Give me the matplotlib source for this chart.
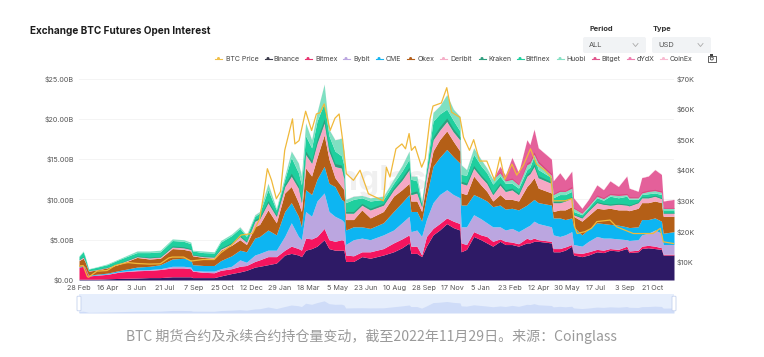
import matplotlib
matplotlib.use('Agg')
import matplotlib.pyplot as plt
from matplotlib.patches import FancyBboxPatch, Circle, Rectangle
from matplotlib.lines import Line2D

W, H = 764, 357

# day index of each reading, counted from 28 Feb 2020
days = [0, 7, 10, 16, 30, 47, 69, 97, 118, 136,
        156, 175, 187, 190, 208, 226, 237, 255,
        269, 280, 294, 302, 316, 330, 344, 355, 367, 372,
        379, 389, 398, 410, 418, 428, 439, 443, 446, 459,
        473, 487, 509, 526, 540, 552, 555, 565, 573, 581,
        592, 603, 615, 626, 637, 639, 648, 660, 672, 682,
        692, 704, 713, 724, 735, 749, 754, 761, 768, 790,
        793, 804, 813, 824, 827, 841, 852, 866, 877, 888,
        902, 916, 920, 935, 941, 952, 963, 974, 977, 995]

# upper edge of every stacked band, $B
binance_top = [.1, .1, .1, .1, .1, .15, .2, .25, .3, .3,
               .4, .4, .4, .3, .3, .3, .5, .8,
               1.0, 1.2, 1.6, 1.7, 1.9, 2.1, 3.1, 3.3, 3.1, 2.9,
               3.7, 3.9, 4.2, 5.0, 3.9, 3.7, 3.7, 3.7, 2.3, 2.3,
               2.9, 2.7, 3.1, 3.5, 4.0, 4.6, 3.3, 3.3, 2.9, 4.2,
               5.6, 6.2, 7.0, 6.5, 6.2, 3.5, 3.8, 5.4, 5.0, 4.6,
               4.2, 4.8, 4.4, 4.4, 4.2, 4.6, 4.6, 4.8, 4.8, 4.6,
               3.5, 3.5, 3.7, 4.2, 3.1, 2.9, 3.1, 3.5, 3.4, 3.7,
               3.6, 3.9, 3.4, 3.5, 3.9, 4.0, 3.9, 3.8, 3.1, 3.1]
bitmex_top = [1.6, 1.7, 1.5, .5, .6, .7, 1.0, 1.15, 1.2, 1.3,
              1.5, 1.5, 1.4, 1.1, .95, .9, 1.2, 1.4,
              1.7, 1.8, 2.3, 2.5, 2.9, 2.9, 3.7, 4.2, 3.9, 3.7,
              5.2, 5.1, 5.4, 6.4, 5.0, 4.8, 5.0, 4.9, 3.1, 3.0,
              3.5, 3.5, 3.9, 4.6, 5.1, 5.6, 4.2, 4.2, 3.1, 5.4,
              6.4, 7.0, 7.7, 7.3, 7.0, 4.6, 4.4, 6.0, 5.6, 5.4,
              4.8, 5.1, 4.8, 4.7, 4.5, 5.2, 5.0, 5.2, 5.0, 4.8,
              3.9, 3.9, 4.1, 4.4, 3.4, 3.3, 3.5, 3.8, 3.7, 3.9,
              3.8, 4.2, 3.6, 3.7, 4.2, 4.3, 4.2, 4.0, 3.2, 3.2]
bybit_top = [1.6, 1.7, 1.5, .52, .63, .75, 1.05, 1.25, 1.3, 1.4,
             1.7, 1.7, 1.6, 1.2, 1.1, 1.1, 1.4, 1.7,
             2.5, 2.2, 3.1, 3.3, 3.7, 3.7, 5.4, 7.1, 5.4, 5.0,
             8.5, 7.9, 9.8, 10.8, 8.5, 7.9, 7.5, 7.2, 4.4, 5.0,
             5.2, 5.0, 5.6, 6.2, 7.1, 7.9, 6.0, 6.2, 5.4, 7.5,
             9.6, 10.6, 11.2, 10.6, 10.2, 6.6, 6.6, 8.1, 7.6, 7.1,
             6.6, 6.6, 6.2, 6.4, 6.0, 6.6, 6.8, 7.3, 7.0, 6.6,
             5.6, 5.4, 5.6, 6.0, 4.4, 4.2, 4.8, 5.4, 5.2, 5.2,
             5.1, 5.0, 4.9, 5.0, 5.6, 5.8, 6.2, 5.8, 4.4, 4.4]
cme_top = [1.7, 1.8, 1.6, .6, .72, .85, 1.2, 1.6, 1.7, 1.9,
           2.6, 2.7, 2.5, 1.9, 1.8, 1.8, 2.4, 3.0,
           3.7, 3.5, 5.2, 5.4, 6.2, 5.6, 8.5, 9.6, 7.9, 6.6,
           11.2, 10.6, 12.5, 14.1, 12.0, 11.6, 10.0, 9.8, 6.2, 6.6,
           6.6, 6.4, 7.1, 8.5, 9.6, 10.6, 8.5, 8.5, 7.3, 10.4,
           14.1, 15.2, 16.2, 15.3, 14.5, 9.3, 9.3, 10.6, 10.2, 9.8,
           9.1, 9.3, 8.8, 8.9, 8.7, 9.3, 9.6, 10.0, 9.6, 9.3,
           7.7, 7.7, 7.5, 7.7, 6.6, 5.6, 6.3, 7.1, 7.0, 6.9,
           6.8, 6.6, 6.5, 6.6, 7.5, 7.5, 7.7, 7.3, 5.8, 6.0]
okex_top = [2.4, 2.7, 2.3, 1.1, 1.25, 1.5, 2.0, 2.8, 2.6, 2.7,
            3.9, 3.8, 3.6, 3.0, 2.8, 2.7, 3.7, 4.3,
            5.0, 4.4, 6.6, 6.9, 8.7, 7.1, 10.8, 11.6, 9.6, 8.5,
            13.9, 12.9, 15.2, 18.0, 15.0, 12.7, 11.6, 11.2, 7.5, 7.5,
            8.7, 7.7, 8.5, 10.4, 11.2, 12.0, 9.8, 9.8, 8.5, 12.0,
            16.0, 17.4, 18.5, 17.2, 16.0, 10.8, 10.6, 12.9, 11.8, 11.0,
            9.8, 10.6, 10.0, 10.0, 9.8, 11.6, 12.0, 12.7, 11.4, 10.8,
            8.5, 8.7, 8.7, 9.1, 7.9, 7.3, 8.0, 8.9, 8.8, 8.9,
            8.7, 8.7, 8.6, 8.9, 9.6, 9.6, 9.8, 9.6, 7.9, 7.9]
deribit_top = [2.5, 2.85, 2.4, 1.15, 1.3, 1.55, 2.1, 2.9, 2.75, 2.85,
               4.1, 4.0, 3.8, 3.1, 2.9, 2.85, 3.85, 4.5,
               5.4, 4.7, 7.3, 7.6, 9.6, 7.9, 11.6, 12.9, 11.4, 9.6,
               15.6, 14.5, 17.0, 19.5, 16.0, 14.1, 13.9, 12.6, 8.3, 8.3,
               9.3, 8.7, 9.3, 11.2, 12.4, 13.7, 10.6, 10.8, 9.1, 13.0,
               17.4, 18.6, 19.7, 18.4, 17.4, 12.0, 11.8, 13.9, 12.8, 12.0,
               10.6, 11.8, 11.0, 11.2, 10.6, 12.9, 13.2, 14.1, 12.7, 12.0,
               9.6, 9.6, 9.8, 10.2, 8.1, 7.7, 8.6, 9.6, 9.4, 9.3,
               9.4, 9.3, 9.2, 9.6, 10.2, 10.2, 10.4, 10.1, 8.3, 8.3]
bitfinex_top = [2.9, 3.5, 2.9, 1.35, 1.6, 1.9, 2.6, 3.4, 3.4, 3.5,
                4.9, 4.8, 4.5, 3.6, 3.4, 3.35, 4.7, 5.5,
                6.4, 5.4, 7.9, 8.3, 11.2, 8.7, 12.5, 15.2, 13.3, 11.8,
                17.9, 16.4, 19.7, 22.0, 17.9, 16.0, 15.4, 14.2, 9.6, 10.0,
                10.2, 9.8, 10.0, 12.0, 13.5, 15.0, 12.5, 12.3, 9.5, 13.7,
                19.7, 20.6, 21.2, 19.8, 18.5, 13.1, 13.0, 15.6, 14.2, 13.3,
                11.9, 12.9, 12.0, 12.0, 11.4, 13.7, 14.0, 15.4, 13.7, 12.7,
                10.2, 10.6, 10.6, 11.0, 8.5, 8.1, 9.0, 10.2, 9.9, 10.4,
                10.2, 10.4, 10.0, 10.0, 10.6, 10.7, 10.8, 10.6, 8.7, 8.7]
huobi_top = [3.0, 3.6, 3.0, 1.4, 1.65, 2.0, 2.7, 3.6, 3.6, 3.7,
             5.1, 5.0, 4.7, 3.7, 3.6, 3.5, 4.9, 5.7,
             6.6, 5.6, 8.1, 8.5, 12.0, 8.9, 12.9, 16.0, 14.5, 12.9,
             19.5, 17.4, 20.8, 24.3, 18.7, 17.4, 17.6, 16.0, 10.0, 10.4,
             10.5, 10.2, 10.4, 12.5, 14.2, 16.0, 12.9, 12.9, 9.8, 14.1,
             20.8, 21.6, 23.0, 21.2, 20.3, 14.3, 13.7, 16.4, 15.0, 13.9,
             12.5, 13.3, 12.3, 12.5, 11.8, 14.3, 14.5, 15.6, 14.5, 13.0,
             10.6, 11.0, 11.0, 11.4, 8.9, 8.3, 9.2, 10.4, 10.1, 10.6,
             10.5, 10.6, 10.2, 10.2, 10.8, 11.0, 11.1, 10.9, 8.9, 8.9]
dydx_top = [3.0, 3.6, 3.0, 1.4, 1.65, 2.0, 2.7, 3.6, 3.6, 3.7,
            5.1, 5.0, 4.7, 3.7, 3.6, 3.5, 4.9, 5.7,
            6.6, 5.6, 8.1, 8.5, 12.0, 8.9, 12.9, 16.0, 14.5, 12.9,
            19.5, 17.4, 20.8, 24.3, 18.7, 17.4, 17.6, 16.0, 10.0, 10.4,
            10.5, 10.2, 10.4, 12.5, 14.2, 16.0, 12.9, 12.9, 9.8, 14.1,
            20.8, 21.6, 23.0, 21.2, 20.3, 14.3, 13.7, 16.4, 15.0, 13.9,
            12.5, 14.1, 13.0, 15.2, 13.3, 17.4, 16.8, 18.7, 16.4, 15.0,
            12.3, 13.3, 12.4, 13.5, 10.2, 8.9, 10.0, 11.8, 11.2, 12.3,
            11.6, 12.9, 11.4, 11.0, 12.7, 12.9, 13.7, 13.1, 9.8, 10.0]

# thin bands, thickness in $B
kraken_oi = [.05, .08, .06, .03, .04, .05, .06, .08, .08, .08,
             .12, .12, .1, .08, .08, .08, .12, .15,
             .15, .12, .2, .2, .25, .2, .3, .35, .3, .25,
             .4, .35, .45, .5, .4, .35, .35, .3, .2, .2,
             .2, .2, .2, .25, .3, .3, .25, .25, .2, .25,
             .35, .4, .4, .35, .35, .25, .25, .3, .25, .25,
             .2, .25, .2, .2, .2, .25, .25, .3, .25, .2,
             .15, .15, .15, .15, .1, .1, .12, .12, .12, .12,
             .12, .12, .1, .1, .12, .12, .12, .12, .1, .1]
bitget_oi = [0, 0, 0, 0, 0, 0, 0, 0, 0, 0,
             0, 0, 0, 0, 0, 0, 0, 0,
             0, 0, 0, 0, 0, 0, 0, 0, 0, 0,
             0, 0, 0, 0, 0, 0, 0, 0, 0, 0,
             0, 0, 0, 0, 0, 0, 0, 0, 0, 0,
             0, 0, 0, 0, 0, 0, 0, 0, 0, 0,
             0, .15, .12, .15, .12, .25, .25, .3, .25, .2,
             .12, .15, .12, .2, .1, .1, .1, .15, .12, .15,
             .15, .15, .12, .1, .15, .15, .15, .15, .1, .1]
coinex_oi = [0, 0, 0, 0, 0, 0, 0, 0, 0, 0,
             0, 0, 0, 0, 0, 0, 0, 0,
             .03, .03, .03, .03, .03, .03, .03, .03, .03, .03,
             .03, .03, .03, .03, .03, .03, .03, .03, .03, .03,
             .03, .03, .03, .03, .03, .03, .03, .03, .03, .03,
             .03, .03, .03, .03, .03, .03, .03, .03, .03, .03,
             .03, .04, .04, .05, .05, .04, .04, .05, .04, .04,
             .03, .03, .03, .04, .03, .03, .03, .04, .04, .04,
             .04, .04, .03, .03, .04, .04, .04, .04, .03, .03]

btc_days = [0, 7, 14, 16, 30, 47, 60, 69, 82, 97, 118, 136, 150, 156, 175, 187, 208, 226, 237, 255,
            271, 290, 302, 308, 315, 322, 330, 337, 344, 357, 361, 368, 379, 389, 397, 403, 410,
            420, 428, 435, 441, 447, 459, 470, 484, 509, 514, 520, 530, 540, 546, 552, 556, 562,
            573, 579, 587, 592, 606, 615, 623, 637, 643, 653, 660, 670, 682, 695, 704, 712, 724,
            732, 743, 755, 765, 779, 789, 793, 813, 824, 829, 833, 846, 857, 866, 888, 899, 927,
            960, 972, 977, 995]
btc_price = [8.7, 8.8, 5.2, 5.0, 7.0, 7.2, 8.8, 9.3, 9.8, 9.5, 9.3, 9.4, 11.3, 11.6, 11.6, 10.3, 10.8, 10.8, 13.0, 15.5,
             18.8, 19.3, 24.0, 31.0, 40.5, 36.7, 30.7, 33.0, 46.5, 56.8, 48.6, 49.7, 59.3, 53.0, 58.4, 58.8, 61.7,
             53.0, 57.0, 58.4, 49.7, 38.9, 36.7, 40.0, 32.3, 30.0, 41.0, 37.8, 47.0, 48.6, 47.0, 52.0, 46.5, 47.8,
             41.0, 43.8, 56.8, 61.0, 62.0, 67.0, 59.0, 57.3, 50.8, 46.5, 50.0, 43.0, 43.0, 36.7, 44.3, 37.0, 42.0,
             38.4, 41.6, 47.0, 42.0, 40.0, 37.8, 30.0, 30.0, 30.7, 21.5, 19.3, 19.9, 21.0, 23.2, 23.7, 21.5, 19.3,
             19.3, 21.0, 16.6, 16.0]

date_labels = ['28 Feb', '16 Apr', '3 Jun', '21 Jul', '7 Sep', '25 Oct', '12 Dec', '29 Jan', '18 Mar',
               '5 May', '23 Jun', '10 Aug', '28 Sep', '17 Nov', '5 Jan', '23 Feb', '12 Apr', '30 May',
               '17 Jul', '3 Sep', '21 Oct']
left_ticks = [0, 5, 10, 15, 20, 25]
left_labels = ['$0.00', '$5.00B', '$10.00B', '$15.00B', '$20.00B', '$25.00B']
right_ticks = [10, 20, 30, 40, 50, 60, 70]
right_labels = ['$10K', '$20K', '$30K', '$40K', '$50K', '$60K', '$70K']

legend_names = ['BTC Price', 'Binance', 'Bitmex', 'Bybit', 'CME', 'Okex', 'Deribit', 'Kraken',
                'Bitfinex', 'Huobi', 'Bitget', 'dYdX', 'CoinEx']
legend_colors = ['#f0c04a', '#3a3a4a', '#e8336f', '#bba6e0', '#16b4f0', '#b4601c', '#f5afc8', '#2f9e7e',
                 '#1fcf9e', '#86e0c4', '#e0558c', '#ee7fb0', '#f8bcd2']
legend_marks = [218.5, 268, 308, 346, 379, 410.6, 443.5, 482, 520, 560, 595, 630, 663.5]
legend_texts = [226, 273.5, 315, 353, 385.5, 418, 450, 488, 525.5, 566, 601.6, 636.5, 670]

plt.rcParams['font.family'] = ['Inter', 'DejaVu Sans']

fig = plt.figure(figsize=(W / 100, H / 100), dpi=100)


def box(x0, y0, x1, y1):
    return [x0 / W, 1 - y1 / H, (x1 - x0) / W, (y1 - y0) / H]


ax = fig.add_axes(box(79, 78.5, 674, 280))
ax.set_xlim(0, 995)
ax.set_ylim(0, 25)
for s in ax.spines.values():
    s.set_visible(False)
ax.set_yticks(left_ticks)
ax.set_yticklabels(left_labels, fontsize=5.2, color='#555555')
ax.set_xticks([i * 48 for i in range(len(date_labels))])
ax.set_xticklabels(date_labels, fontsize=5.2, color='#555555')
ax.tick_params(length=0, pad=3.5)
ax.grid(axis='y', color='#f3f3f3', lw=0.6)
ax.set_axisbelow(True)
ax.text(482, 12.3, 'coinglass', fontsize=24, color='#f0f0f0', ha='center', va='center',
        fontweight='bold', zorder=0.5)

bands = [([0] * len(days), binance_top, '#2e1a66'),
         (binance_top, bitmex_top, '#f5155f'),
         (bitmex_top, bybit_top, '#bba6e0'),
         (bybit_top, cme_top, '#0db5f2'),
         (cme_top, okex_top, '#b45f17'),
         (okex_top, deribit_top, '#f5a8c4'),
         (deribit_top, bitfinex_top, '#1fcf9e'),
         (bitfinex_top, huobi_top, '#7fe0c2'),
         (huobi_top, dydx_top, '#e4609a')]
for low, high, col in bands:
    ax.fill_between(days, low, high, color=col, lw=0, zorder=2)

# thin bands sit on the lower edge of the next big one
ax.fill_between(days, deribit_top, [a + b for a, b in zip(deribit_top, kraken_oi)],
                color='#2f9e7e', lw=0, zorder=3)
ax.fill_between(days, huobi_top, [a + b for a, b in zip(huobi_top, bitget_oi)],
                color='#d9497f', lw=0, zorder=3)
ax.fill_between(days, dydx_top, [a + b for a, b in zip(dydx_top, coinex_oi)],
                color='#f8bcd2', lw=0, zorder=3)

ax2 = ax.twinx()
ax2.set_ylim(4.1, 70)
for s in ax2.spines.values():
    s.set_visible(False)
ax2.set_yticks(right_ticks)
ax2.set_yticklabels(right_labels, fontsize=5.2, color='#555555')
ax2.tick_params(length=0, pad=2)
ax2.plot(btc_days, btc_price, color='#f0b93a', lw=0.9, zorder=5)

# mini chart in the range slider
mini = fig.add_axes(box(79, 294, 674, 313))
mini.set_xlim(0, 995)
mini.set_ylim(0, 38)
mini.set_facecolor('#e6eefc')
mini.set_xticks([])
mini.set_yticks([])
for s in mini.spines.values():
    s.set_visible(False)
mini.fill_between(days, 0, dydx_top, color='#cfdcf8', lw=0)

# page furniture is placed in pixel positions
over = fig.add_axes([0, 0, 1, 1])
over.set_xlim(0, W)
over.set_ylim(H, 0)
over.axis('off')
over.patch.set_alpha(0)

over.text(30, 31, 'Exchange BTC Futures Open Interest', fontsize=7.2, fontweight='bold',
          color='#1c1c1c', va='center')
over.text(589, 29, 'Period', fontsize=5.4, fontweight='bold', color='#333333', va='center')
over.text(653, 29, 'Type', fontsize=5.4, fontweight='bold', color='#333333', va='center')
for x0, x1, name in [(583, 646, 'ALL'), (652, 711, 'USD')]:
    over.add_patch(FancyBboxPatch((x0 + 2, 39), x1 - x0 - 4, 12, boxstyle='round,pad=2',
                                  fc='#f1f3f5', ec='none'))
    over.text(x0 + 6, 45, name, fontsize=5.4, color='#555555', va='center')
    over.plot([x1 - 13, x1 - 10.5, x1 - 8], [43.5, 46.5, 43.5], color='#aaaaaa', lw=0.6)

for name, col, xm, xt in zip(legend_names, legend_colors, legend_marks, legend_texts):
    over.add_line(Line2D([xm - 3.5, xm + 3.5], [58.5, 58.5], color=col, lw=0.8))
    over.add_patch(Circle((xm, 58.5), 1.5, fc=col, ec='none'))
    over.text(xt, 58.5, name, fontsize=5, color='#444444', va='center_baseline')

# camera icon
over.add_patch(Rectangle((708, 55.5), 7.5, 6, fc='white', ec='#444444', lw=0.6))
over.add_patch(Rectangle((710, 54.3), 3, 1.2, fc='#444444', ec='none'))
over.add_patch(Circle((711.8, 58.5), 1.5, fc='white', ec='#444444', lw=0.6))

# slider handles
for xh in [79, 674]:
    over.add_patch(FancyBboxPatch((xh - 1.2, 297), 2.4, 13, boxstyle='round,pad=0.8',
                                  fc='white', ec='#c5d2ee', lw=0.6))

over.text(371.5, 336.5, 'BTC 期货合约及永续合约持仓量变动，截至2022年11月29日。来源：Coinglass',
          fontsize=10.1, color='#9a9a9a', ha='center', va='center',
          family=['Noto Sans CJK SC', 'DejaVu Sans'], fontweight='light')

fig.savefig('out.png', dpi=100)
